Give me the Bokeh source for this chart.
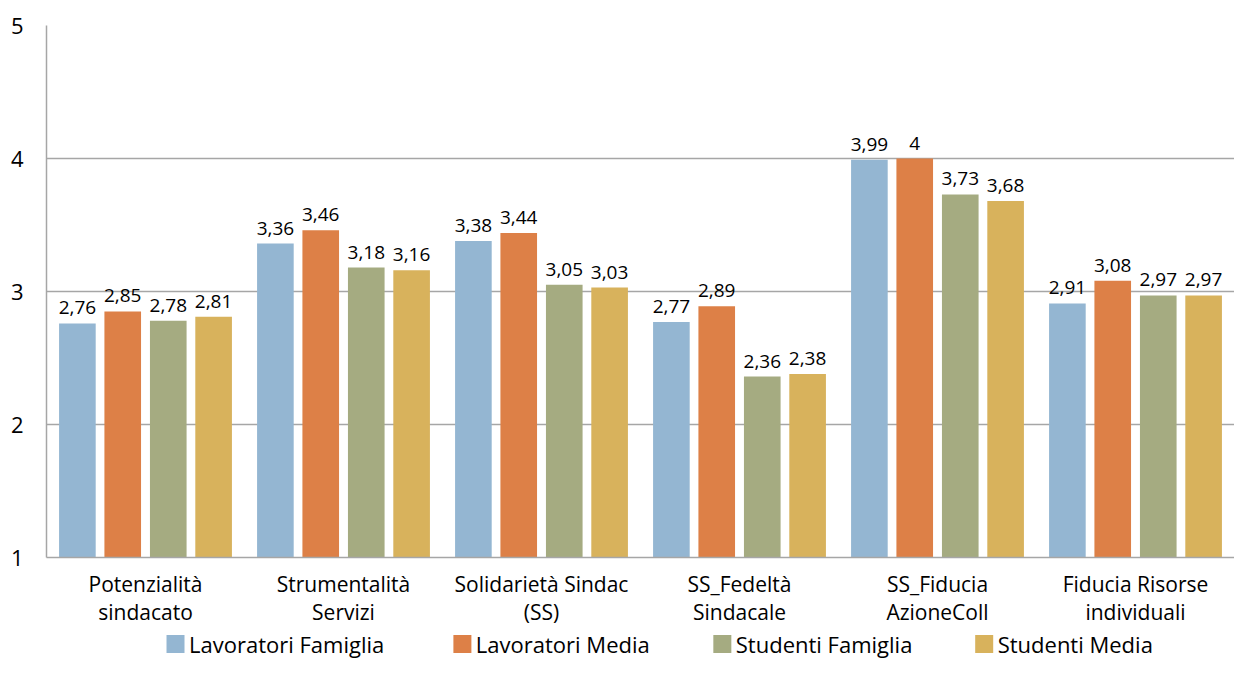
from bokeh.plotting import figure
from bokeh.layouts import column
from bokeh.models import (FactorRange, Range1d, FixedTicker, ColumnDataSource, LabelSet)
from bokeh.core.properties import value
from bokeh.transform import dodge
from bokeh.embed import file_html
from bokeh.resources import INLINE

categories = ["Potenzialità\nsindacato", "Strumentalità\nServizi", "Solidarietà Sindac\n(SS)",
              "SS_Fedeltà\nSindacale", "SS_Fiducia\nAzioneColl", "Fiducia Risorse\nindividuali"]
series_names = ["Lavoratori Famiglia", "Lavoratori Media", "Studenti Famiglia", "Studenti Media"]
lav_famiglia = [2.76, 3.36, 3.38, 2.77, 3.99, 2.91]
lav_media = [2.85, 3.46, 3.44, 2.89, 4.00, 3.08]
stu_famiglia = [2.78, 3.18, 3.05, 2.36, 3.73, 2.97]
stu_media = [2.81, 3.16, 3.03, 2.38, 3.68, 2.97]
y_ticks = [1, 2, 3, 4, 5]

colors = ["#94B6D2", "#DD8047", "#A5AB81", "#D8B25C"]
FONT = "Open Sans"

def fmt(v):
    s = ("%.2f" % v).rstrip("0").rstrip(".")
    return s.replace(".", ",")

keys = ["s0", "s1", "s2", "s3"]
data = {"cat": categories}
for k, vals in zip(keys, [lav_famiglia, lav_media, stu_famiglia, stu_media]):
    data[k] = vals
    data[k + "_lbl"] = [fmt(v) for v in vals]
source = ColumnDataSource(data)

p = figure(x_range=FactorRange(*categories, range_padding=0), y_range=Range1d(1, 5),
           width=1234, height=628,
           output_backend="svg", toolbar_location=None,
           min_border_left=46, min_border_right=0, min_border_top=25, min_border_bottom=71)
p.outline_line_color = None
p.background_fill_color = "white"

offsets = [-0.344, -0.115, 0.115, 0.344]
for k, off, c in zip(keys, offsets, colors):
    p.vbar(x=dodge("cat", off, range=p.x_range), top=k, bottom=1, width=0.185,
           source=source, fill_color=c, line_color=None)
    lbl = LabelSet(x=dodge("cat", off, range=p.x_range), y=k, text=k + "_lbl", source=source,
                   text_align="center", text_baseline="bottom", y_offset=9,
                   text_font=value(FONT), text_font_size=value("19px"), text_color="#000000")
    p.add_layout(lbl)

p.yaxis.ticker = FixedTicker(ticks=y_ticks)
p.yaxis.major_tick_line_color = None
p.yaxis.minor_tick_line_color = None
p.yaxis.axis_line_color = "#A6A6A6"
p.yaxis.axis_line_width = 1.5
p.yaxis.major_label_standoff = 17
p.yaxis.major_label_text_font = FONT
p.yaxis.major_label_text_font_size = "22px"
p.yaxis.major_label_text_color = "#000000"

p.xaxis.major_tick_line_color = None
p.xaxis.axis_line_color = "#A6A6A6"
p.xaxis.axis_line_width = 1.5
p.xaxis.major_label_standoff = 6
p.xaxis.major_label_text_font = FONT
p.xaxis.major_label_text_font_size = "21px"
p.xaxis.major_label_text_color = "#000000"
p.xaxis.major_label_text_line_height = 1.0

p.xgrid.grid_line_color = None
p.ygrid.ticker = FixedTicker(ticks=y_ticks)
p.ygrid.grid_line_color = "#A6A6A6"
p.ygrid.grid_line_width = 1.5

# legend strip (layout in screen pixels)
LH = 31
lp = figure(width=1234, height=LH, x_range=Range1d(0, 1234), y_range=Range1d(0, LH),
            output_backend="svg", toolbar_location=None,
            min_border_left=0, min_border_right=0, min_border_top=0, min_border_bottom=0)
lp.axis.visible = False
lp.grid.visible = False
lp.outline_line_color = None

legend_x = [125, 423, 693, 965]
leg_src = ColumnDataSource(dict(
    sx=[lx + 9 for lx in legend_x],
    tx=[lx + 23 for lx in legend_x],
    y=[LH / 2] * 4,
    name=series_names,
    color=colors,
))
lp.scatter(x="sx", y="y", source=leg_src, marker="square", size=18,
           fill_color="color", line_color=None)
lp.text(x="tx", y="y", text="name", source=leg_src, text_align="left",
        text_baseline="middle", text_font=value(FONT), text_font_size=value("22px"),
        text_color="#000000")

layout = column(p, lp, spacing=0)
open("out.html", "w").write(file_html(layout, INLINE))
